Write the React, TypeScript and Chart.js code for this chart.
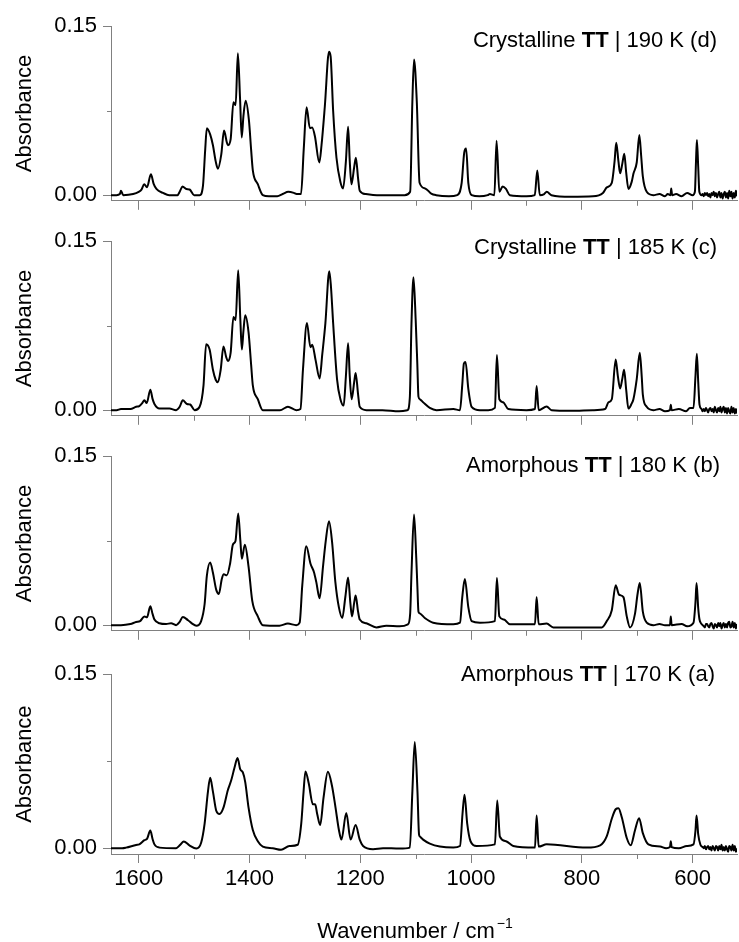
import React, { useEffect, useRef } from 'react';
import { Chart, registerables } from 'chart.js';

Chart.register(...registerables);

const FONT = "'Liberation Sans', Arial, Helvetica, sans-serif";
const AXIS = '#808080';

const xMajorTicks = [1600, 1400, 1200, 1000, 800, 600];
const xMinorTicks = [1500, 1300, 1100, 900, 700];
const yMajorTicks = [0, 0.15];
const yMinorTicks = [0.075];

// [wavenumber (cm^-1), absorbance]
const spectrum190: [number, number][] = [
  [1650, 0.0], [1640, 0.0], [1634, 0.001], [1632, 0.004], [1628, 0.0], [1610, 0.001], [1600, 0.003], [1595, 0.005],
  [1590, 0.0097], [1585, 0.007], [1578, 0.0185], [1573, 0.01], [1568, 0.0055], [1556, 0.002], [1545, 0.0],
  [1530, 0.0], [1526, 0.003], [1521, 0.0077], [1514, 0.0055], [1508, 0.005], [1500, 0.0], [1490, 0.0],
  [1484, 0.0083], [1480, 0.04], [1477, 0.0595], [1471, 0.054], [1466, 0.0443], [1461, 0.03], [1457, 0.0235],
  [1451, 0.036], [1446, 0.0573], [1441, 0.047], [1439, 0.0443], [1434, 0.0498], [1429, 0.0824], [1425, 0.08],
  [1421, 0.1259], [1417, 0.085], [1414, 0.0512], [1411, 0.07], [1407, 0.0838], [1401, 0.0664], [1397, 0.04],
  [1394, 0.0221], [1385, 0.0097], [1376, 0.0], [1365, -0.001], [1350, -0.001], [1340, 0.001], [1330, 0.003],
  [1320, 0.002], [1315, 0.001], [1307, 0.001], [1302, 0.0415], [1297, 0.078], [1291, 0.0595], [1287, 0.06],
  [1282, 0.0525], [1274, 0.029], [1270, 0.0443], [1264, 0.0789], [1256.5, 0.1273], [1253.5, 0.123],
  [1249, 0.0747], [1243, 0.0332], [1236, 0.012], [1231, 0.006], [1226, 0.03], [1222, 0.0608], [1219, 0.03],
  [1216, 0.0097], [1211, 0.025], [1208, 0.0332], [1204, 0.015], [1201, 0.004], [1190, 0.001], [1170, 0.0],
  [1150, 0.0], [1120, 0.0], [1110, 0.003], [1106, 0.083], [1103, 0.1204], [1098, 0.083], [1093, 0.011],
  [1083, 0.006], [1072, 0.0014], [1063, 0.0], [1040, -0.001], [1025, 0.0], [1017, 0.011], [1012.5, 0.0374],
  [1009, 0.0415], [1005, 0.011], [999, 0.0], [985, -0.001], [970, 0.0], [966, 0.001], [958, 0.0],
  [954, 0.0484], [949, 0.003], [943, 0.0077], [937, 0.0055], [930, 0.0], [900, -0.001], [885, 0.0],
  [880.5, 0.022], [876, 0.0], [868, 0.001], [863.5, 0.003], [855, 0.0], [820, -0.0014], [780, -0.001],
  [762, 0.002], [755, 0.0069], [746, 0.011], [741, 0.03], [738, 0.0465], [734, 0.03], [731, 0.0194],
  [727, 0.028], [723.5, 0.0368], [720, 0.02], [716, 0.0055], [710, 0.012], [707, 0.019], [701, 0.029],
  [696.3, 0.0534], [693, 0.035], [690, 0.0166], [683, 0.003], [671, 0.0], [660, 0.001], [650, -0.001],
  [645, 0.001], [640, 0.0], [638.8, 0.006], [637, 0.0], [630, 0.001], [620, -0.001], [610, 0.002],
  [600, 0.0], [596, 0.003], [594, 0.03], [592.4, 0.049], [590, 0.025], [588, 0.003], [584, 0.0],
  [582, 0.001], [580, -0.001], [578, 0.002], [576, 0.0], [574, 0.002], [572, -0.001], [570, 0.001],
  [568, -0.002], [566, 0.002], [564, 0.0], [562, 0.003], [560, -0.001], [558, 0.002], [556, -0.002],
  [554, 0.001], [552, 0.003], [550, -0.002], [548, 0.002], [546, -0.003], [544, 0.001], [542, 0.003],
  [540, -0.002], [538, 0.002], [536, -0.003], [534, 0.004], [532, -0.001], [530, 0.003], [528, -0.003],
  [526, 0.002], [524, -0.002], [522, 0.004], [520, -0.001],
];

const spectrum185: [number, number][] = [
  [1650, 0.0], [1640, 0.0], [1632, 0.001], [1615, 0.001], [1604.7, 0.003], [1599, 0.0036], [1594, 0.006],
  [1589.7, 0.0088], [1585.5, 0.0063], [1579, 0.0182], [1575, 0.01], [1571.6, 0.0055], [1562.6, 0.0014],
  [1544.5, 0.0014], [1532.5, 0.0], [1526, 0.003], [1520.4, 0.0088], [1513, 0.0055], [1507, 0.005],
  [1499, 0.0], [1490, 0.003], [1483, 0.022], [1478.3, 0.0585], [1472, 0.0538], [1466, 0.0359],
  [1461, 0.027], [1457, 0.0248], [1452, 0.0359], [1447, 0.0566], [1442, 0.047], [1439, 0.0436],
  [1434, 0.051], [1429, 0.0828], [1425, 0.08], [1420.4, 0.1242], [1416.5, 0.08], [1413.8, 0.0538],
  [1411, 0.07], [1407.7, 0.0842], [1401.7, 0.069], [1397, 0.04], [1394, 0.022], [1385, 0.0097],
  [1376, 0.0], [1360, 0.0], [1345, 0.0], [1330.7, 0.003], [1315.6, 0.0], [1308, 0.001], [1303.5, 0.0359],
  [1296.3, 0.0773], [1290, 0.0558], [1286.7, 0.058], [1280.6, 0.0442], [1273.4, 0.0282], [1268.6, 0.0497],
  [1263, 0.0773], [1256, 0.1234], [1253, 0.11], [1249, 0.0773], [1242, 0.0276], [1236, 0.01], [1230, 0.0041],
  [1226, 0.03], [1222, 0.0593], [1219, 0.03], [1215.6, 0.0097], [1211, 0.025], [1208.4, 0.0331],
  [1204, 0.014], [1201, 0.003], [1189, 0.0], [1160, 0.0], [1130, -0.001], [1115, 0.0], [1110.6, 0.011],
  [1107.6, 0.077], [1104, 0.118], [1100, 0.08], [1097, 0.04], [1095, 0.012], [1092, 0.0095],
  [1086.6, 0.007], [1074.5, 0.002], [1062.5, 0.0], [1032, 0.001], [1020, 0.0], [1016, 0.022],
  [1013, 0.0414], [1010, 0.0428], [1005, 0.019], [999, 0.003], [984, 0.0], [969, 0.0], [957, 0.002],
  [953.4, 0.0489], [949, 0.0097], [942, 0.007], [933, 0.001], [900, 0.0], [884.7, 0.001], [881.7, 0.0215],
  [878, 0.0], [863.6, 0.0033], [854.6, 0.0], [820, -0.0005], [780, 0.0], [758, 0.001], [752, 0.007],
  [746, 0.0097], [739, 0.045], [735, 0.03], [731, 0.0193], [727, 0.028], [723.8, 0.0359], [720, 0.018],
  [716, 0.0014], [710, 0.006], [707, 0.0097], [701, 0.0276], [695.5, 0.051], [692, 0.03], [690, 0.0138],
  [683, 0.003], [671, 0.0], [660, 0.001], [650, -0.001], [641, 0.0], [639.5, 0.0047], [638, 0.0],
  [625, 0.001], [612, -0.001], [605, 0.002], [598.5, 0.002], [595, 0.03], [592.5, 0.05], [590, 0.025],
  [587.7, 0.005], [584, 0.001], [582, -0.001], [580, 0.001], [578, -0.001], [576, 0.002], [574, 0.0],
  [572, -0.002], [570, 0.001], [568, 0.002], [566, -0.001], [564, 0.001], [562, -0.002], [560, 0.003],
  [558, 0.0], [556, -0.002], [554, 0.002], [552, -0.001], [550, 0.003], [548, -0.002], [546, 0.001],
  [544, 0.003], [542, -0.002], [540, 0.002], [538, -0.003], [536, 0.002], [534, -0.001], [532, -0.003],
  [530, 0.003], [528, -0.002], [526, 0.002], [524, -0.003], [522, 0.001], [520, -0.003],
];

const spectrum180: [number, number][] = [
  [1650, 0.0], [1632, 0.0], [1615, 0.001], [1604.7, 0.0028], [1597.5, 0.0036], [1589.7, 0.0078],
  [1585, 0.007], [1579, 0.0169], [1575, 0.01], [1571.6, 0.005], [1562.6, 0.0017], [1550.6, 0.001],
  [1541.5, 0.0017], [1532.5, 0.0], [1526, 0.003], [1520.4, 0.0072], [1511, 0.0044], [1503.5, 0.0014],
  [1496, -0.0005], [1487.3, 0.0036], [1481, 0.0188], [1477, 0.0437], [1471, 0.0557], [1466, 0.0465],
  [1460, 0.0313], [1455.3, 0.0277], [1450, 0.041], [1446.3, 0.0451], [1441, 0.0443], [1435, 0.0548],
  [1430, 0.0715], [1425.3, 0.0748], [1420.4, 0.0992], [1416.5, 0.075], [1413.8, 0.059], [1408.4, 0.0715],
  [1401.7, 0.052], [1395, 0.0216], [1385, 0.0078], [1376, 0.0], [1346, -0.0005], [1330.7, 0.0014],
  [1315.6, 0.0], [1309.5, 0.0022], [1304.7, 0.0355], [1297.5, 0.0701], [1290, 0.0548], [1283.6, 0.047],
  [1279.4, 0.0382], [1273.4, 0.0238], [1267.3, 0.052], [1262.5, 0.0742], [1256.5, 0.0922], [1251, 0.0742],
  [1245, 0.0382], [1238.7, 0.016], [1232.5, 0.0064], [1227, 0.025], [1222, 0.0424], [1218, 0.02],
  [1215, 0.0078], [1211, 0.02], [1208.4, 0.0263], [1204, 0.012], [1201, 0.005], [1189, 0.0017],
  [1171, -0.002], [1153, -0.0005], [1129, -0.001], [1114, 0.0008], [1110, 0.01], [1107.6, 0.046],
  [1103, 0.0983], [1099, 0.06], [1097, 0.035], [1095, 0.012], [1092.6, 0.0105], [1083.6, 0.0064],
  [1068.5, 0.0022], [1032, 0.0008], [1020, 0.0022], [1016, 0.0244], [1011.3, 0.041], [1005, 0.016],
  [999, 0.0036], [984, 0.0022], [957, 0.0036], [953.4, 0.0418], [949, 0.0078], [940.7, 0.005],
  [930, 0.0008], [884.7, 0.0008], [881.7, 0.0249], [878, 0.0008], [863.6, 0.0014], [851.6, -0.002],
  [764, -0.002], [755, 0.0036], [746, 0.0133], [739, 0.0355], [733, 0.0271], [725, 0.0249], [719, 0.0078],
  [713, -0.002], [704, 0.0105], [699.7, 0.027], [695.5, 0.0374], [690, 0.012], [683, 0.0022], [671, 0.0],
  [660, 0.001], [650, 0.0], [641, 0.0], [639.5, 0.0078], [638, 0.0], [620, 0.001], [610, -0.001],
  [598.5, 0.0022], [595, 0.02], [593, 0.0374], [590, 0.015], [587.7, 0.005], [584, 0.001], [582, 0.0],
  [580, -0.001], [578, -0.002], [576, 0.001], [574, 0.001], [572, -0.001], [570, -0.002], [568, 0.001],
  [566, 0.002], [564, -0.001], [562, -0.003], [560, 0.001], [558, 0.0], [556, -0.002], [554, 0.002],
  [552, -0.001], [550, 0.002], [548, -0.003], [546, 0.0], [544, 0.002], [542, -0.002], [540, 0.001],
  [538, -0.002], [536, 0.002], [534, 0.003], [532, -0.002], [530, -0.001], [528, 0.003], [526, -0.002],
  [524, 0.002], [522, -0.003], [520, 0.001],
];

const spectrum170: [number, number][] = [
  [1650, 0.0], [1630, 0.0], [1622.8, 0.0005], [1604.7, 0.0028], [1599, 0.0033], [1589.7, 0.0069],
  [1585, 0.008], [1579, 0.0152], [1575, 0.008], [1571.6, 0.0033], [1562.6, 0.0005], [1532.5, 0.0],
  [1525, 0.003], [1518.7, 0.0058], [1508.5, 0.0025], [1496, -0.0003], [1487.3, 0.0047], [1481, 0.0212],
  [1475, 0.0488], [1471, 0.0607], [1466, 0.0488], [1460, 0.0323], [1454, 0.0295], [1447, 0.035],
  [1439, 0.0502], [1433, 0.0585], [1427, 0.0695], [1421.6, 0.0777], [1416.8, 0.0681], [1412, 0.0653],
  [1407.7, 0.057], [1401.7, 0.035], [1394, 0.0157], [1385, 0.006], [1376, 0.0014], [1358, 0.0],
  [1343, -0.0014], [1328, 0.0019], [1313, 0.003], [1306.6, 0.0212], [1302.4, 0.0488], [1299, 0.0662],
  [1293, 0.0557], [1285.6, 0.0378], [1281.4, 0.0378], [1277.8, 0.0295], [1272.4, 0.0199], [1266.4, 0.0433],
  [1258.5, 0.0659], [1251.3, 0.0543], [1244.7, 0.035], [1238.6, 0.0157], [1234, 0.0074], [1225.3, 0.0303],
  [1217.5, 0.0074], [1208.4, 0.0199], [1201, 0.0074], [1195, 0.0019], [1177, -0.0008], [1159, 0.0],
  [1129, -0.0003], [1110.6, 0.0005], [1106, 0.0488], [1101.7, 0.0915], [1096.8, 0.0488], [1094, 0.012],
  [1092.6, 0.0102], [1086.6, 0.0074], [1074.5, 0.004], [1056.4, 0.0014], [1032, 0.0005], [1020, 0.0019],
  [1015.5, 0.0295], [1011.9, 0.046], [1007, 0.0212], [1001, 0.006], [990, 0.0019], [957, 0.0033],
  [952.8, 0.0411], [948, 0.01], [937, 0.006], [924, 0.0019], [884.7, 0.0005], [881.7, 0.0281],
  [878, 0.0014], [863.6, 0.0033], [791.3, 0.0005], [767, 0.0025], [755.2, 0.0102], [746, 0.0254],
  [739, 0.0336], [734, 0.0345], [728, 0.0267], [719, 0.0088], [711.8, 0.0025], [704, 0.0157],
  [696.7, 0.0259], [690, 0.013], [680, 0.0033], [658.8, 0.0014], [648, 0.0], [641, 0.001], [639.5, 0.006],
  [638, 0.001], [625, 0.0], [610.6, 0.0019], [598.5, 0.0033], [595, 0.015], [593, 0.0281], [590, 0.012],
  [586, 0.003], [582, 0.001], [580, 0.0], [578, 0.002], [576, -0.001], [574, 0.001], [572, 0.002],
  [570, -0.001], [568, 0.001], [566, -0.002], [564, 0.002], [562, 0.0], [560, -0.002], [558, 0.002],
  [556, 0.001], [554, -0.002], [552, 0.002], [550, -0.001], [548, 0.003], [546, -0.002], [544, 0.001],
  [542, -0.002], [540, 0.002], [538, -0.001], [536, -0.003], [534, 0.002], [532, 0.001], [530, -0.002],
  [528, 0.003], [526, -0.002], [524, 0.002], [522, -0.003], [520, 0.0],
];

const spectra = [spectrum190, spectrum185, spectrum180, spectrum170];
const phases = ['Crystalline', 'Crystalline', 'Amorphous', 'Amorphous'];
const sampleCodes = ['TT', 'TT', 'TT', 'TT'];
const temperatures = ['190 K (d)', '185 K (c)', '180 K (b)', '170 K (a)'];
const yTitle = 'Absorbance';
const xTitle = 'Wavenumber / cm';
const xTitleSup = '\u22121';

// layout (page pixels)
const canvasTops = [7, 222, 437, 655];
const canvasHeights = [213, 213, 213, 287];
const labelRights = [717, 717, 720, 715];
const labelBaselines = [46.5, 253.5, 472, 681];
const PAD_TOP = 12;
const AREA_H = 187;

function makeTextPlugin(i: number, isBottom: boolean) {
  return {
    id: 'panelText' + i,
    afterDraw(chart: any) {
      const ctx = chart.ctx as CanvasRenderingContext2D;
      ctx.save();
      ctx.fillStyle = '#000';
      ctx.textBaseline = 'alphabetic';
      ctx.textAlign = 'left';
      const reg = `22px ${FONT}`;
      const bold = `bold 22px ${FONT}`;
      const parts: [string, string][] = [
        [phases[i] + ' ', reg],
        [sampleCodes[i], bold],
        [' | ' + temperatures[i], reg],
      ];
      let total = 0;
      for (const [t, f] of parts) { ctx.font = f; total += ctx.measureText(t).width; }
      let x = labelRights[i] - total;
      const yb = labelBaselines[i] - canvasTops[i];
      for (const [t, f] of parts) { ctx.font = f; ctx.fillText(t, x, yb); x += ctx.measureText(t).width; }

      // minor ticks
      const xs = chart.scales.x;
      const ys = chart.scales.y;
      ctx.strokeStyle = AXIS;
      ctx.lineWidth = 1;
      for (const v of xMinorTicks) {
        const px = Math.round(xs.getPixelForValue(v)) + 0.5;
        ctx.beginPath();
        ctx.moveTo(px, xs.top);
        ctx.lineTo(px, xs.top + 5);
        ctx.stroke();
      }
      for (const v of yMinorTicks) {
        const py = Math.round(ys.getPixelForValue(v)) + 0.5;
        ctx.beginPath();
        ctx.moveTo(ys.right - 4, py);
        ctx.lineTo(ys.right, py);
        ctx.stroke();
      }

      if (isBottom) {
        const main = `22px ${FONT}`;
        const sup = `14px ${FONT}`;
        ctx.font = main;
        const w1 = ctx.measureText(xTitle).width;
        ctx.font = sup;
        const w2 = ctx.measureText(xTitleSup).width;
        const start = 415 - (w1 + 2 + w2) / 2;
        const base = 938 - canvasTops[i];
        ctx.font = main;
        ctx.fillText(xTitle, start, base);
        ctx.font = sup;
        ctx.fillText(xTitleSup, start + w1 + 2, base - 10);
      }
      ctx.restore();
    },
  };
}

function Panel({ index }: { index: number }) {
  const ref = useRef<HTMLCanvasElement | null>(null);
  useEffect(() => {
    if (!ref.current) return;
    const isBottom = index === spectra.length - 1;
    const H = canvasHeights[index];
    const xh = H - PAD_TOP - AREA_H;
    const chart = new Chart(ref.current, {
      type: 'line',
      data: {
        datasets: [
          {
            data: spectra[index].map(([x, y]) => ({ x, y })),
            borderColor: '#000',
            borderWidth: 2,
            pointRadius: 0,
            cubicInterpolationMode: 'monotone',
            fill: false,
          },
        ],
      },
      options: {
        animation: false,
        responsive: false,
        maintainAspectRatio: false,
        layout: { padding: { top: PAD_TOP, right: 2, left: 0, bottom: 0 } },
        plugins: { legend: { display: false }, tooltip: { enabled: false } },
        scales: {
          x: {
            type: 'linear',
            reverse: true,
            min: 520,
            max: 1650,
            afterBuildTicks: (s: any) => {
              s.ticks = [...xMajorTicks, ...xMinorTicks].sort((a, b) => b - a).map((v) => ({ value: v }));
            },
            afterFit: (s: any) => { s.height = xh; },
            ticks: {
              display: isBottom,
              autoSkip: false,
              maxRotation: 0,
              padding: 3,
              color: '#000',
              font: { family: FONT, size: 22 },
              callback: (v: any) => (xMajorTicks.includes(Number(v)) ? String(v) : ''),
            },
            grid: {
              drawOnChartArea: false,
              drawTicks: true,
              tickLength: 9,
              color: AXIS,
              tickColor: (c: any) => (c.tick && xMajorTicks.includes(c.tick.value) ? AXIS : 'rgba(0,0,0,0)'),
            },
            border: { display: true, color: AXIS, width: 1 },
          },
          y: {
            min: -0.005,
            max: 0.15,
            afterBuildTicks: (s: any) => {
              s.ticks = [0, 0.075, 0.15].map((v) => ({ value: v }));
            },
            afterFit: (s: any) => { s.width = 111; },
            ticks: {
              padding: 6,
              color: '#000',
              font: { family: FONT, size: 22 },
              callback: (v: any) => (yMajorTicks.includes(Number(v)) ? Number(v).toFixed(2) : ''),
            },
            grid: {
              drawOnChartArea: false,
              drawTicks: true,
              tickLength: 8,
              color: AXIS,
              tickColor: (c: any) => (c.tick && yMajorTicks.includes(c.tick.value) ? AXIS : 'rgba(0,0,0,0)'),
            },
            border: { display: true, color: AXIS, width: 1 },
            title: {
              display: true,
              text: yTitle,
              color: '#000',
              font: { family: FONT, size: 22 },
              padding: { top: 12, bottom: 0 },
            },
          },
        },
      },
      plugins: [makeTextPlugin(index, isBottom)],
    } as any);
    return () => chart.destroy();
  }, [index]);
  return (
    <canvas
      ref={ref}
      width={739}
      height={canvasHeights[index]}
      style={{ position: 'absolute', left: 0, top: canvasTops[index], width: 739, height: canvasHeights[index] }}
    />
  );
}

export default function App() {
  return (
    <div style={{ position: 'absolute', left: 0, top: 0, width: 739, height: 942, background: '#fff' }}>
      {spectra.map((_, i) => (
        <Panel key={i} index={i} />
      ))}
    </div>
  );
}
